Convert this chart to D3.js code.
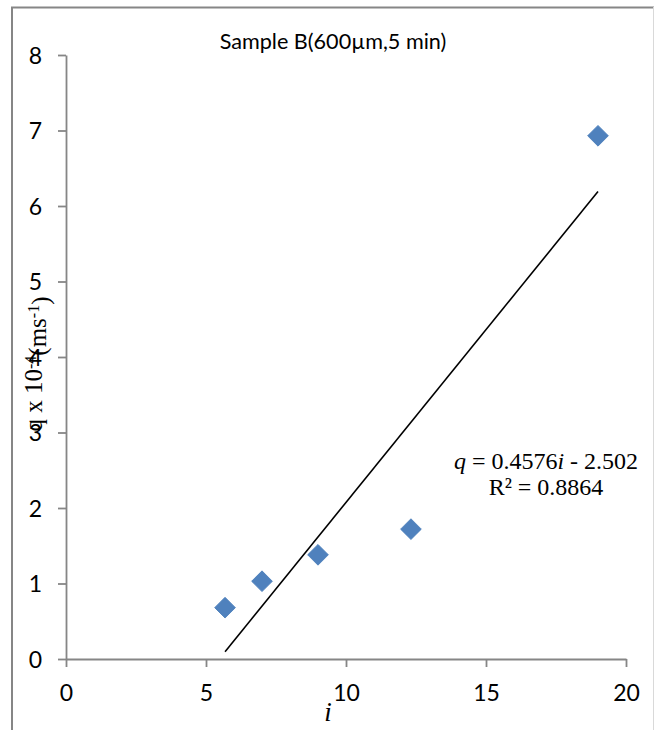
<!DOCTYPE html>
<html>
<head>
<meta charset="utf-8">
<script src="https://cdn.jsdelivr.net/npm/d3@7"></script>
<style>
  html, body { margin: 0; padding: 0; background: #fff; }
  svg { display: block; }
</style>
</head>
<body>
<svg id="chart" width="655" height="730"></svg>
<script>
// ---- data ----
const iValues = [5.68, 7.0, 9.0, 12.32, 19.0];
const qValues = [0.68, 1.03, 1.38, 1.72, 6.93];
const xTicks = [0, 5, 10, 15, 20];
const yTicks = [0, 1, 2, 3, 4, 5, 6, 7, 8];
const trendSlope = 0.4576;
const trendIntercept = -2.502;
const titleText = "Sample B(600µm,5 min)";
const eqLine2 = "R² = 0.8864";

const svg = d3.select("#chart");
const W = 655, H = 730;
const plot = { left: 66, right: 626, top: 55, bottom: 659 };

const x = d3.scaleLinear().domain([0, 20]).range([plot.left, plot.right]);
const y = d3.scaleLinear().domain([0, 8]).range([plot.bottom, plot.top]);

// outer chart border
svg.append("line").attr("x1", 11).attr("x2", 654).attr("y1", 7.5).attr("y2", 7.5)
  .attr("stroke", "#868686").attr("stroke-width", 2);
svg.append("line").attr("x1", 12).attr("x2", 12).attr("y1", 7).attr("y2", H)
  .attr("stroke", "#868686").attr("stroke-width", 2);
svg.append("line").attr("x1", 653.5).attr("x2", 653.5).attr("y1", 7).attr("y2", H)
  .attr("stroke", "#d9d9d9").attr("stroke-width", 1);

const axisColor = "#868686";
const tickFont = "Lato, 'Liberation Sans', sans-serif";

// y axis
const yAxis = svg.append("g").attr("transform", `translate(${plot.left},0)`)
  .call(d3.axisLeft(y).tickValues(yTicks).tickSize(8).tickSizeOuter(0).tickFormat(d3.format("d")));
// x axis
const xAxis = svg.append("g").attr("transform", `translate(0,${plot.bottom})`)
  .call(d3.axisBottom(x).tickValues(xTicks).tickSize(8).tickSizeOuter(0).tickFormat(d3.format("d")));

[yAxis, xAxis].forEach(g => {
  g.select(".domain").attr("stroke", axisColor).attr("stroke-width", 1.8);
  g.selectAll(".tick line").attr("stroke", axisColor).attr("stroke-width", 1.8);
  g.selectAll(".tick text").attr("fill", "#000")
    .style("font-family", tickFont).style("font-size", "23px");
});
yAxis.selectAll(".tick text").attr("x", -24).attr("dy", "0.36em");
xAxis.selectAll(".tick text").attr("y", 26).attr("dy", "0.71em");

// trendline
const xMin = d3.min(iValues), xMax = d3.max(iValues);
svg.append("line")
  .attr("x1", x(xMin)).attr("y1", y(trendSlope * xMin + trendIntercept))
  .attr("x2", x(xMax)).attr("y2", y(trendSlope * xMax + trendIntercept))
  .attr("stroke", "#000").attr("stroke-width", 1.6);

// points (diamonds)
const diamond = d3.symbol().type(d3.symbolSquare).size(215);
svg.append("g").selectAll("path")
  .data(iValues.map((v, k) => [v, qValues[k]]))
  .join("path")
  .attr("d", diamond)
  .attr("transform", d => `translate(${x(d[0])},${y(d[1])}) rotate(45)`)
  .attr("fill", "#4F81BD")
  .attr("stroke", "#4A7EBB").attr("stroke-width", 0.8);

// title
svg.append("text").attr("x", 333).attr("y", 49)
  .attr("text-anchor", "middle")
  .style("font-family", tickFont).style("font-size", "21.6px")
  .attr("fill", "#000")
  .text(titleText);

// equation
const serif = "'Liberation Serif', 'DejaVu Serif', serif";
const eq = svg.append("text").attr("x", 546).attr("y", 469)
  .attr("text-anchor", "middle")
  .style("font-family", serif).style("font-size", "24px").attr("fill", "#000");
eq.append("tspan").style("font-style", "italic").text("q");
eq.append("tspan").text(" = 0.4576");
eq.append("tspan").style("font-style", "italic").text("i");
eq.append("tspan").text(" - 2.502");
svg.append("text").attr("x", 546).attr("y", 495)
  .attr("text-anchor", "middle")
  .style("font-family", serif).style("font-size", "24px").attr("fill", "#000")
  .text(eqLine2);

// y axis title
const yt = svg.append("text")
  .attr("transform", "translate(42,364) rotate(-90)")
  .attr("text-anchor", "middle")
  .style("font-family", serif).style("font-size", "25px").attr("fill", "#000");
yt.append("tspan").text("q x 10");
yt.append("tspan").attr("dy", "-0.4em").style("font-size", "16px").text("-4");
yt.append("tspan").attr("dy", "0.4em").text("(ms");
yt.append("tspan").attr("dy", "-0.4em").style("font-size", "16px").text("-1");
yt.append("tspan").attr("dy", "0.4em").text(")");

// x axis title
svg.append("text").attr("x", 328).attr("y", 721)
  .attr("text-anchor", "middle")
  .style("font-family", serif).style("font-size", "27px").style("font-style", "italic")
  .attr("fill", "#000").text("i");
</script>
</body>
</html>
